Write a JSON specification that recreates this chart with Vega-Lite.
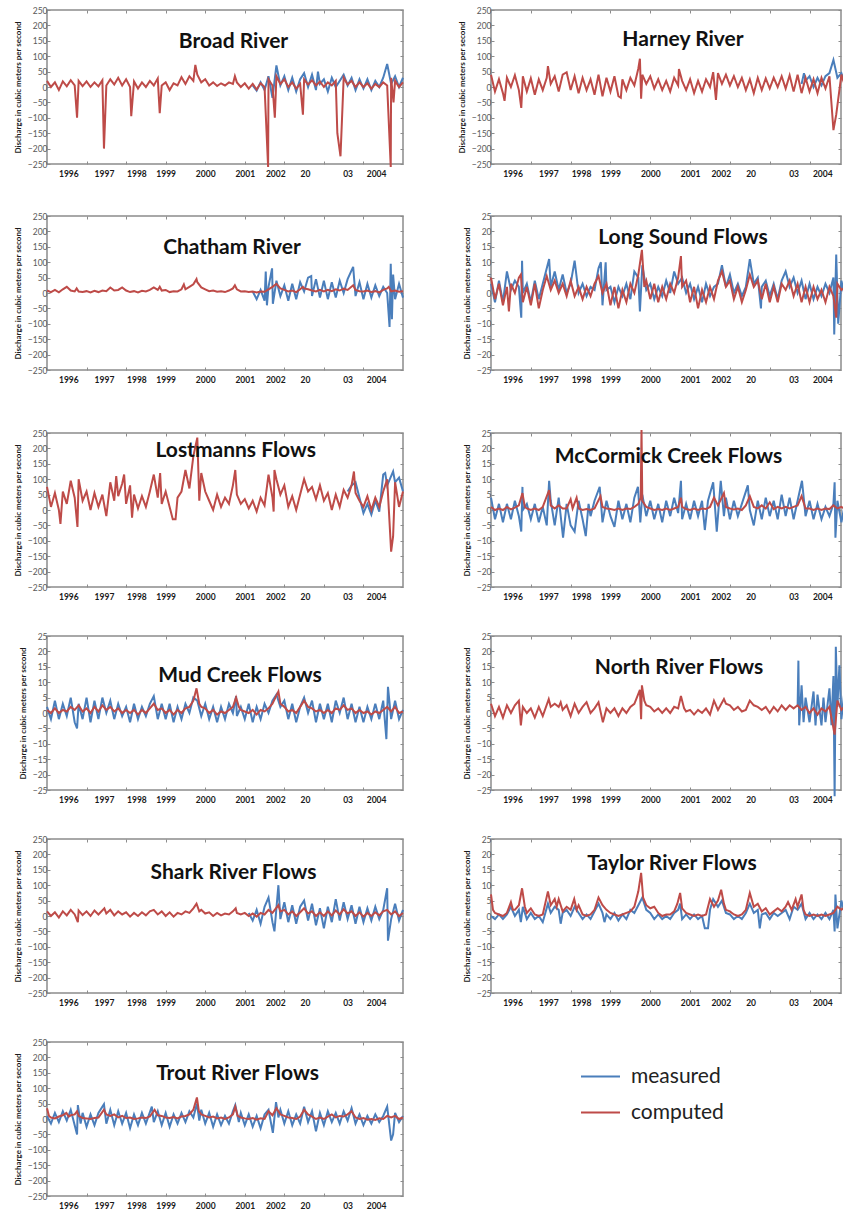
{
"$schema": "https://vega.github.io/schema/vega-lite/v6.json",
"autosize": {"type": "pad"},
"padding": {"left": 13, "top": 5, "right": 0, "bottom": 0},
"background": "white",
"config": {
 "font": "Lato",
 "view": {"stroke": "#8C8C8C", "strokeWidth": 1.5},
 "axis": {"domain": false, "grid": false, "tickColor": "#8C8C8C", "tickSize": -3, "tickWidth": 1, "labelFont": "Lato", "labelFontSize": 8.5},
 "axisBottom": {"labelFontWeight": "bold", "labelColor": "#1A1A1A", "labelPadding": 8, "labelOverlap": false, "labelFlush": false, "labelBound": false},
 "axisLeft": {"labelColor": "#595959", "labelPadding": 3, "titleFont": "Lato", "titleFontSize": 8, "titleFontWeight": "bold", "titleColor": "#1A1A1A", "titlePadding": 5},
 "axisTop": {"labels": false},
 "axisRight": {"labels": false},
 "title": {"font": "Lato", "fontSize": 21, "fontWeight": "bold", "color": "#111111", "anchor": "middle", "frame": "group", "baseline": "alphabetic"},
 "line": {"strokeWidth": 2, "clip": true, "invalid": "filter"}
},
"spacing": 423,
"bounds": "flush",
"vconcat": [
{"spacing": 206, "bounds": "flush", "vconcat": [
{"spacing": 88, "bounds": "flush", "hconcat": [
{"width": 356, "height": 154, "title": {"text": "Broad River", "dx": 8.5, "offset": -46},
 "data": {"values": [
{"t":1996,"c":20},{"t":1996.1,"c":0},{"t":1996.2,"c":15},{"t":1996.3,"c":-10},{"t":1996.4,"c":18},{"t":1996.5,"c":2},{"t":1996.6,"c":22},{"t":1996.7,"c":5},{"t":1996.76,"c":-100},{"t":1996.8,"c":20},{"t":1996.9,"c":3},
{"t":1997,"c":18},{"t":1997.1,"c":0},{"t":1997.2,"c":15},{"t":1997.3,"c":2},{"t":1997.4,"c":22},{"t":1997.44,"c":-200},{"t":1997.5,"c":5},{"t":1997.6,"c":25},{"t":1997.7,"c":8},{"t":1997.8,"c":30},{"t":1997.9,"c":5},
{"t":1998,"c":25},{"t":1998.1,"c":0},{"t":1998.13,"c":-95},{"t":1998.2,"c":18},{"t":1998.3,"c":-5},{"t":1998.4,"c":15},{"t":1998.5,"c":0},{"t":1998.6,"c":20},{"t":1998.7,"c":5},{"t":1998.8,"c":28},{"t":1998.85,"c":-85},{"t":1998.9,"c":5},
{"t":1999,"c":15},{"t":1999.1,"c":-10},{"t":1999.2,"c":12},{"t":1999.3,"c":5},{"t":1999.4,"c":32},{"t":1999.5,"c":10},{"t":1999.6,"c":35},{"t":1999.7,"c":20},{"t":1999.75,"c":72},{"t":1999.8,"c":40},{"t":1999.9,"c":15},
{"t":2000,"c":25},{"t":2000.1,"c":5},{"t":2000.2,"c":15},{"t":2000.3,"c":3},{"t":2000.4,"c":12},{"t":2000.5,"c":5},{"t":2000.6,"c":15},{"t":2000.7,"c":10},{"t":2000.75,"c":35},{"t":2000.8,"c":15},{"t":2000.9,"c":0},
{"t":2001,"c":12},{"t":2001.1,"c":-5},{"t":2001.2,"c":10,"m":5},{"t":2001.3,"c":-8,"m":-12},{"t":2001.4,"c":12,"m":15},{"t":2001.5,"c":0,"m":-10},{"t":2001.59,"c":-260},{"t":2001.6,"c":25,"m":35},{"t":2001.7,"c":5,"m":-35},{"t":2001.76,"c":-100},{"t":2001.8,"c":35,"m":70},{"t":2001.9,"c":10,"m":5},
{"t":2002,"c":25,"m":35},{"t":2002.1,"c":0,"m":-10},{"t":2002.2,"c":15,"m":30},{"t":2002.3,"c":-5,"m":-15},{"t":2002.4,"c":10,"m":25},{"t":2002.47,"c":-90},{"t":2002.5,"c":25,"m":45},{"t":2002.6,"c":8,"m":0},{"t":2002.7,"c":22,"m":40},{"t":2002.8,"c":5,"m":-10},{"t":2002.85,"m":50},{"t":2002.9,"c":18,"m":10},
{"t":2003,"c":0,"m":25},{"t":2003.1,"c":15,"m":-15},{"t":2003.2,"c":5,"m":30},{"t":2003.3,"c":20,"m":0},{"t":2003.34,"c":-150},{"t":2003.42,"c":-225},{"t":2003.5,"c":30,"m":40},{"t":2003.6,"c":8,"m":5},{"t":2003.7,"c":20,"m":30},{"t":2003.8,"c":0,"m":-10},{"t":2003.9,"c":15,"m":25},
{"t":2004,"c":0,"m":-5},{"t":2004.1,"c":12,"m":25},{"t":2004.2,"c":-5,"m":-10},{"t":2004.3,"c":10,"m":20},{"t":2004.4,"c":0,"m":0},{"t":2004.5,"c":15,"m":30},{"t":2004.6,"c":5,"m":75},{"t":2004.69,"c":-260},{"t":2004.7,"c":30,"m":10},{"t":2004.76,"c":-50},{"t":2004.8,"c":20,"m":35},{"t":2004.9,"c":0,"m":0},{"t":2005,"c":15,"m":30}
 ]},
 "layer": [
  {"mark": "line", "encoding": {
   "x": {"field": "t", "type": "quantitative", "scale": {"domain": [1996, 2005], "nice": false, "zero": false}, "axis": {"title": null, "values": [1996.54,1997,1997.44,1998,1998.26,1999,2000,2001,2001.77,2002,2002.52,2003,2003.6,2004,2004.32], "labelExpr": "datum.value==1996.54?'1996':datum.value==1997.44?'1997':datum.value==1998.26?'1998':datum.value==1999?'1999':datum.value==2000?'2000':datum.value==2001?'2001':datum.value==2001.77?'2002':datum.value==2002.52?'20':datum.value==2003.6?'03':datum.value==2004.32?'2004':''", "tickOpacity": {"condition": {"test": "datum.value==floor(datum.value)", "value": 1}, "value": 0}}},
   "y": {"field": "m", "type": "quantitative", "scale": {"domain": [-250, 250], "nice": false}, "axis": {"values": [-250,-200,-150,-100,-50,0,50,100,150,200,250], "title": "Discharge in cubic meters per second"}},
   "color": {"datum": "measured", "type": "nominal", "scale": {"domain": ["measured", "computed"], "range": ["#4A7EBB", "#BE4B48"]}, "legend": {"orient": "none", "legendX": 533, "legendY": 1046, "title": null, "symbolType": "stroke", "symbolSize": 1521, "symbolStrokeWidth": 3, "labelFontSize": 21, "labelFont": "Lato", "labelColor": "#222222", "rowPadding": 5, "labelOffset": 10}}}},
  {"mark": "line", "encoding": {
   "x": {"field": "t", "type": "quantitative", "axis": {"orient": "top", "title": null, "values": [1997,1998,1999,2000,2001,2002,2003,2004]}},
   "y": {"field": "c", "type": "quantitative", "axis": {"orient": "right", "title": null, "values": [-250,-200,-150,-100,-50,0,50,100,150,200,250]}},
   "color": {"datum": "computed", "type": "nominal"}}}
 ],
 "resolve": {"axis": {"x": "independent", "y": "independent"}}},
{"width": 350, "height": 154, "title": {"text": "Harney River", "dx": 17, "offset": -44},
 "data": {"values": [
{"t":1996,"c":40},{"t":1996.1,"c":-15},{"t":1996.2,"c":25},{"t":1996.3,"c":-20},{"t":1996.34,"c":-45},{"t":1996.4,"c":30},{"t":1996.5,"c":0},{"t":1996.6,"c":38},{"t":1996.7,"c":-10},{"t":1996.76,"c":-68},{"t":1996.8,"c":35},{"t":1996.9,"c":-15},
{"t":1997,"c":28},{"t":1997.1,"c":-25},{"t":1997.2,"c":25},{"t":1997.3,"c":-10},{"t":1997.4,"c":30},{"t":1997.43,"c":68},{"t":1997.5,"c":10},{"t":1997.6,"c":35},{"t":1997.7,"c":-15},{"t":1997.8,"c":40},{"t":1997.9,"c":48},
{"t":1998,"c":-10},{"t":1998.1,"c":35},{"t":1998.2,"c":-20},{"t":1998.3,"c":30},{"t":1998.4,"c":-10},{"t":1998.5,"c":25},{"t":1998.6,"c":-25},{"t":1998.7,"c":40},{"t":1998.8,"c":-30},{"t":1998.9,"c":30},
{"t":1999,"c":-15},{"t":1999.1,"c":35},{"t":1999.2,"c":-30},{"t":1999.26,"c":-35},{"t":1999.3,"c":25},{"t":1999.4,"c":-10},{"t":1999.5,"c":30},{"t":1999.6,"c":5},{"t":1999.7,"c":60},{"t":1999.74,"c":92},{"t":1999.77,"c":-38},{"t":1999.8,"c":40},{"t":1999.9,"c":10},
{"t":2000,"c":35},{"t":2000.1,"c":-5},{"t":2000.2,"c":25},{"t":2000.3,"c":-10},{"t":2000.4,"c":20},{"t":2000.5,"c":-15},{"t":2000.6,"c":30},{"t":2000.7,"c":5},{"t":2000.72,"c":58},{"t":2000.8,"c":20},{"t":2000.9,"c":-10},
{"t":2001,"c":25},{"t":2001.1,"c":-20},{"t":2001.2,"c":20},{"t":2001.3,"c":-15},{"t":2001.4,"c":25},{"t":2001.5,"c":0},{"t":2001.58,"c":48},{"t":2001.65,"c":-42},{"t":2001.7,"c":45},{"t":2001.8,"c":10},{"t":2001.9,"c":40},
{"t":2002,"c":5},{"t":2002.1,"c":35},{"t":2002.2,"c":0},{"t":2002.3,"c":30},{"t":2002.4,"c":-10},{"t":2002.5,"c":25},{"t":2002.6,"c":-20},{"t":2002.7,"c":30},{"t":2002.8,"c":-10},{"t":2002.9,"c":28},
{"t":2003,"c":-5},{"t":2003.1,"c":30},{"t":2003.2,"c":0},{"t":2003.3,"c":35},{"t":2003.4,"c":-5},{"t":2003.5,"c":38},{"t":2003.6,"c":-15},{"t":2003.7,"c":40},{"t":2003.8,"c":-20,"m":10},{"t":2003.86,"m":45},{"t":2003.9,"c":30,"m":20},
{"t":2004,"c":-15,"m":35},{"t":2004.1,"c":25,"m":0},{"t":2004.2,"c":-20,"m":30},{"t":2004.3,"c":30,"m":5},{"t":2004.4,"c":-5,"m":35},{"t":2004.5,"c":35,"m":45},{"t":2004.6,"c":-140,"m":88},{"t":2004.67,"c":-90},{"t":2004.7,"m":30},{"t":2004.8,"c":40,"m":45},{"t":2004.9,"c":0,"m":5},{"t":2005,"c":25,"m":30}
 ]},
 "layer": [
  {"mark": "line", "encoding": {
   "x": {"field": "t", "type": "quantitative", "scale": {"domain": [1996, 2004.79], "nice": false, "zero": false}, "axis": {"title": null, "values": [1996.54,1997,1997.44,1998,1998.26,1999,2000,2001,2001.77,2002,2002.52,2003,2003.6,2004,2004.32], "labelExpr": "datum.value==1996.54?'1996':datum.value==1997.44?'1997':datum.value==1998.26?'1998':datum.value==1999?'1999':datum.value==2000?'2000':datum.value==2001?'2001':datum.value==2001.77?'2002':datum.value==2002.52?'20':datum.value==2003.6?'03':datum.value==2004.32?'2004':''", "tickOpacity": {"condition": {"test": "datum.value==floor(datum.value)", "value": 1}, "value": 0}}},
   "y": {"field": "m", "type": "quantitative", "scale": {"domain": [-250, 250], "nice": false}, "axis": {"values": [-250,-200,-150,-100,-50,0,50,100,150,200,250], "title": "Discharge in cubic meters per second"}},
   "color": {"datum": "measured", "type": "nominal"}}},
  {"mark": "line", "encoding": {
   "x": {"field": "t", "type": "quantitative", "axis": {"orient": "top", "title": null, "values": [1997,1998,1999,2000,2001,2002,2003,2004]}},
   "y": {"field": "c", "type": "quantitative", "axis": {"orient": "right", "title": null, "values": [-250,-200,-150,-100,-50,0,50,100,150,200,250]}},
   "color": {"datum": "computed", "type": "nominal"}}}
 ],
 "resolve": {"axis": {"x": "independent", "y": "independent"}}}
]},
{"spacing": 88, "bounds": "flush", "hconcat": [
{"width": 356, "height": 154, "title": {"text": "Chatham River", "dx": 7, "offset": -45.5},
 "data": {"values": [
{"t":1996,"c":8},{"t":1996.1,"c":3},{"t":1996.2,"c":10},{"t":1996.3,"c":2},{"t":1996.4,"c":12},{"t":1996.5,"c":20},{"t":1996.6,"c":8},{"t":1996.7,"c":5},{"t":1996.75,"c":15},{"t":1996.8,"c":5},{"t":1996.9,"c":3},
{"t":1997,"c":6},{"t":1997.1,"c":2},{"t":1997.2,"c":7},{"t":1997.3,"c":3},{"t":1997.4,"c":8},{"t":1997.5,"c":6},{"t":1997.6,"c":18},{"t":1997.7,"c":8},{"t":1997.8,"c":10},{"t":1997.9,"c":18},
{"t":1998,"c":8},{"t":1998.1,"c":3},{"t":1998.2,"c":6},{"t":1998.3,"c":2},{"t":1998.4,"c":7},{"t":1998.5,"c":5},{"t":1998.6,"c":10},{"t":1998.7,"c":18},{"t":1998.8,"c":10},{"t":1998.85,"c":20},{"t":1998.9,"c":8},
{"t":1999,"c":10},{"t":1999.1,"c":3},{"t":1999.2,"c":6},{"t":1999.3,"c":5},{"t":1999.4,"c":12},{"t":1999.46,"c":28},{"t":1999.5,"c":12},{"t":1999.6,"c":20},{"t":1999.7,"c":28},{"t":1999.78,"c":45},{"t":1999.8,"c":35},{"t":1999.9,"c":18},
{"t":2000,"c":12},{"t":2000.1,"c":6},{"t":2000.2,"c":8},{"t":2000.3,"c":4},{"t":2000.4,"c":6},{"t":2000.5,"c":3},{"t":2000.6,"c":8},{"t":2000.7,"c":15},{"t":2000.75,"c":25},{"t":2000.8,"c":12},{"t":2000.9,"c":5},
{"t":2001,"c":6},{"t":2001.1,"c":3},{"t":2001.2,"c":5,"m":5},{"t":2001.3,"c":2,"m":-20},{"t":2001.4,"c":5,"m":10},{"t":2001.5,"c":4,"m":-25},{"t":2001.53,"m":70},{"t":2001.56,"m":-40},{"t":2001.6,"c":12,"m":20},{"t":2001.69,"m":80},{"t":2001.7,"c":20},{"t":2001.71,"m":-35},{"t":2001.8,"c":30,"m":40},{"t":2001.9,"c":15,"m":-10},
{"t":2002,"c":10,"m":25},{"t":2002.1,"c":5,"m":-25},{"t":2002.2,"c":8,"m":30},{"t":2002.3,"c":3,"m":-20},{"t":2002.4,"c":12,"m":35},{"t":2002.47,"c":20},{"t":2002.5,"c":15,"m":5},{"t":2002.6,"c":12,"m":50},{"t":2002.68,"m":55},{"t":2002.7,"c":8,"m":-10},{"t":2002.8,"c":5,"m":45},{"t":2002.9,"c":10,"m":-15},
{"t":2003,"c":5,"m":40},{"t":2003.1,"c":10,"m":-20},{"t":2003.2,"c":6,"m":35},{"t":2003.3,"c":12,"m":-15},{"t":2003.4,"c":8,"m":40},{"t":2003.5,"c":14,"m":0},{"t":2003.6,"c":10,"m":45},{"t":2003.74,"c":25,"m":85},{"t":2003.8,"c":10,"m":-10},{"t":2003.9,"c":6,"m":35},
{"t":2004,"c":5,"m":-20},{"t":2004.1,"c":8,"m":30},{"t":2004.2,"c":3,"m":-15},{"t":2004.3,"c":6,"m":25},{"t":2004.4,"c":2,"m":-10},{"t":2004.5,"c":10,"m":20},{"t":2004.6,"c":15,"m":0},{"t":2004.64,"c":20},{"t":2004.66,"m":-110},{"t":2004.69,"m":95},{"t":2004.7,"c":5},{"t":2004.72,"m":-85},{"t":2004.75,"m":60},{"t":2004.8,"c":8,"m":-20},{"t":2004.9,"c":4,"m":30},{"t":2005,"c":6,"m":-15}
 ]},
 "layer": [
  {"mark": "line", "encoding": {
   "x": {"field": "t", "type": "quantitative", "scale": {"domain": [1996, 2005], "nice": false, "zero": false}, "axis": {"title": null, "values": [1996.54,1997,1997.44,1998,1998.26,1999,2000,2001,2001.77,2002,2002.52,2003,2003.6,2004,2004.32], "labelExpr": "datum.value==1996.54?'1996':datum.value==1997.44?'1997':datum.value==1998.26?'1998':datum.value==1999?'1999':datum.value==2000?'2000':datum.value==2001?'2001':datum.value==2001.77?'2002':datum.value==2002.52?'20':datum.value==2003.6?'03':datum.value==2004.32?'2004':''", "tickOpacity": {"condition": {"test": "datum.value==floor(datum.value)", "value": 1}, "value": 0}}},
   "y": {"field": "m", "type": "quantitative", "scale": {"domain": [-250, 250], "nice": false}, "axis": {"values": [-250,-200,-150,-100,-50,0,50,100,150,200,250], "title": "Discharge in cubic meters per second"}},
   "color": {"datum": "measured", "type": "nominal"}}},
  {"mark": "line", "encoding": {
   "x": {"field": "t", "type": "quantitative", "axis": {"orient": "top", "title": null, "values": [1997,1998,1999,2000,2001,2002,2003,2004]}},
   "y": {"field": "c", "type": "quantitative", "axis": {"orient": "right", "title": null, "values": [-250,-200,-150,-100,-50,0,50,100,150,200,250]}},
   "color": {"datum": "computed", "type": "nominal"}}}
 ],
 "resolve": {"axis": {"x": "independent", "y": "independent"}}},
{"width": 350, "height": 154, "title": {"text": "Long Sound Flows", "dx": 17, "offset": -35.5},
 "data": {"values": [
{"t":1996,"c":5,"m":3},{"t":1996.1,"c":-2,"m":-3},{"t":1996.2,"c":3,"m":4},{"t":1996.3,"c":-4,"m":-3},{"t":1996.4,"c":2,"m":7},{"t":1996.45,"c":-6},{"t":1996.5,"c":3,"m":1},{"t":1996.6,"c":0,"m":4},{"t":1996.7,"c":5,"m":2},{"t":1996.75,"c":6},{"t":1996.76,"m":-8},{"t":1996.78,"m":10.5},{"t":1996.8,"c":-3,"m":0},{"t":1996.9,"c":2,"m":3},
{"t":1997,"c":-4,"m":-3},{"t":1997.1,"c":3,"m":4},{"t":1997.2,"c":-5,"m":-2},{"t":1997.3,"c":1,"m":3},{"t":1997.4,"c":5.5},{"t":1997.46,"m":11},{"t":1997.5,"c":1,"m":2},{"t":1997.6,"c":4,"m":7},{"t":1997.7,"c":0,"m":1},{"t":1997.8,"c":3,"m":6},{"t":1997.9,"c":-1,"m":0},
{"t":1998,"c":4,"m":3},{"t":1998.1,"c":-1,"m":10.5},{"t":1998.2,"c":2,"m":0},{"t":1998.3,"c":-2,"m":3},{"t":1998.4,"c":2,"m":-1},{"t":1998.5,"c":-1,"m":2},{"t":1998.6,"c":3,"m":1},{"t":1998.7,"c":5.5,"m":8},{"t":1998.76,"m":10},{"t":1998.8,"c":0,"m":-4},{"t":1998.88,"m":10},{"t":1998.9,"c":3,"m":1},
{"t":1999,"c":-4,"m":2},{"t":1999.1,"c":2,"m":-3},{"t":1999.2,"c":-5,"m":2},{"t":1999.3,"c":1,"m":-1},{"t":1999.4,"c":-3,"m":3},{"t":1999.5,"c":3,"m":-2},{"t":1999.6,"c":0,"m":7},{"t":1999.7,"c":6,"m":5},{"t":1999.74,"m":-6},{"t":1999.79,"c":14},{"t":1999.8,"m":9},{"t":1999.85,"c":2},{"t":1999.9,"c":4,"m":1},
{"t":2000,"c":-2,"m":3},{"t":2000.1,"c":3,"m":-2},{"t":2000.2,"c":-3,"m":2},{"t":2000.3,"c":2,"m":-1},{"t":2000.4,"c":-2,"m":4},{"t":2000.5,"c":3,"m":0},{"t":2000.6,"c":0,"m":7},{"t":2000.7,"c":5,"m":3},{"t":2000.77,"c":12},{"t":2000.8,"c":2,"m":5},{"t":2000.9,"c":4,"m":0},
{"t":2001,"c":-3,"m":3},{"t":2001.1,"c":2,"m":-2},{"t":2001.2,"c":-5,"m":2},{"t":2001.3,"c":1,"m":-3},{"t":2001.4,"c":-3,"m":3},{"t":2001.5,"c":2,"m":-1},{"t":2001.6,"c":-2,"m":2},{"t":2001.7,"c":4,"m":3},{"t":2001.8,"c":7,"m":9},{"t":2001.9,"c":2,"m":2},
{"t":2002,"c":4,"m":6},{"t":2002.1,"c":-2,"m":0},{"t":2002.2,"c":2,"m":3},{"t":2002.3,"c":-3,"m":-1},{"t":2002.4,"c":1,"m":2},{"t":2002.5,"c":6,"m":11},{"t":2002.6,"c":2,"m":3},{"t":2002.7,"c":4,"m":5},{"t":2002.78,"m":-5},{"t":2002.8,"c":-2,"m":2},{"t":2002.9,"c":3,"m":4},
{"t":2003,"c":-3,"m":-1},{"t":2003.1,"c":2,"m":3},{"t":2003.2,"c":-3,"m":-2},{"t":2003.3,"c":3,"m":4},{"t":2003.4,"c":1,"m":7},{"t":2003.5,"c":4,"m":2},{"t":2003.6,"c":-1,"m":5},{"t":2003.7,"c":3,"m":0},{"t":2003.8,"c":-3,"m":4},{"t":2003.9,"c":2,"m":-2},
{"t":2004,"c":-3,"m":3},{"t":2004.1,"c":2,"m":-2},{"t":2004.2,"c":-2,"m":2},{"t":2004.3,"c":1,"m":-1},{"t":2004.4,"c":-3,"m":3},{"t":2004.5,"c":2,"m":0},{"t":2004.6,"c":-1,"m":5},{"t":2004.62,"m":-13.5},{"t":2004.67,"c":-8,"m":12.5},{"t":2004.7,"c":3},{"t":2004.72,"m":-10},{"t":2004.8,"c":1,"m":4},{"t":2004.9,"c":2,"m":-2},{"t":2005,"c":0,"m":3}
 ]},
 "layer": [
  {"mark": "line", "encoding": {
   "x": {"field": "t", "type": "quantitative", "scale": {"domain": [1996, 2004.79], "nice": false, "zero": false}, "axis": {"title": null, "values": [1996.54,1997,1997.44,1998,1998.26,1999,2000,2001,2001.77,2002,2002.52,2003,2003.6,2004,2004.32], "labelExpr": "datum.value==1996.54?'1996':datum.value==1997.44?'1997':datum.value==1998.26?'1998':datum.value==1999?'1999':datum.value==2000?'2000':datum.value==2001?'2001':datum.value==2001.77?'2002':datum.value==2002.52?'20':datum.value==2003.6?'03':datum.value==2004.32?'2004':''", "tickOpacity": {"condition": {"test": "datum.value==floor(datum.value)", "value": 1}, "value": 0}}},
   "y": {"field": "m", "type": "quantitative", "scale": {"domain": [-25, 25], "nice": false}, "axis": {"values": [-25,-20,-15,-10,-5,0,5,10,15,20,25], "title": "Discharge in cubic meters per second"}},
   "color": {"datum": "measured", "type": "nominal"}}},
  {"mark": "line", "encoding": {
   "x": {"field": "t", "type": "quantitative", "axis": {"orient": "top", "title": null, "values": [1997,1998,1999,2000,2001,2002,2003,2004]}},
   "y": {"field": "c", "type": "quantitative", "axis": {"orient": "right", "title": null, "values": [-25,-20,-15,-10,-5,0,5,10,15,20,25]}},
   "color": {"datum": "computed", "type": "nominal"}}}
 ],
 "resolve": {"axis": {"x": "independent", "y": "independent"}}}
]}
]},
{"spacing": 203, "bounds": "flush", "vconcat": [
{"spacing": 88, "bounds": "flush", "hconcat": [
{"width": 356, "height": 154, "title": {"text": "Lostmanns Flows", "dx": 10.7, "offset": -32},
 "data": {"values": [
{"t":1996,"c":75},{"t":1996.1,"c":10},{"t":1996.2,"c":55},{"t":1996.3,"c":0},{"t":1996.34,"c":-45},{"t":1996.4,"c":60},{"t":1996.5,"c":20},{"t":1996.6,"c":95},{"t":1996.7,"c":40},{"t":1996.77,"c":-55},{"t":1996.8,"c":100},{"t":1996.9,"c":30},
{"t":1997,"c":60},{"t":1997.1,"c":0},{"t":1997.2,"c":55},{"t":1997.3,"c":10},{"t":1997.4,"c":50},{"t":1997.5,"c":-20},{"t":1997.6,"c":90},{"t":1997.7,"c":30},{"t":1997.75,"c":110},{"t":1997.8,"c":45},{"t":1997.9,"c":85},{"t":1997.95,"c":115},
{"t":1998,"c":20},{"t":1998.1,"c":80},{"t":1998.15,"c":-25},{"t":1998.2,"c":50},{"t":1998.3,"c":5},{"t":1998.4,"c":45},{"t":1998.5,"c":10},{"t":1998.6,"c":60},{"t":1998.7,"c":115},{"t":1998.8,"c":40},{"t":1998.86,"c":120},{"t":1998.9,"c":20},
{"t":1999,"c":60},{"t":1999.1,"c":10},{"t":1999.18,"c":-30},{"t":1999.25,"c":-30},{"t":1999.3,"c":40},{"t":1999.4,"c":60},{"t":1999.5,"c":130},{"t":1999.6,"c":70},{"t":1999.7,"c":175},{"t":1999.8,"c":235},{"t":1999.85,"c":30},{"t":1999.9,"c":120},
{"t":2000,"c":60},{"t":2000.1,"c":30},{"t":2000.2,"c":0},{"t":2000.3,"c":50},{"t":2000.4,"c":10},{"t":2000.5,"c":40},{"t":2000.6,"c":20},{"t":2000.7,"c":80},{"t":2000.76,"c":130},{"t":2000.8,"c":50},{"t":2000.9,"c":20},
{"t":2001,"c":35},{"t":2001.1,"c":5},{"t":2001.2,"c":30},{"t":2001.3,"c":-5},{"t":2001.4,"c":40},{"t":2001.5,"c":15},{"t":2001.6,"c":115},{"t":2001.7,"c":40},{"t":2001.73,"c":-5},{"t":2001.75,"c":130},{"t":2001.8,"c":100},{"t":2001.9,"c":50},
{"t":2002,"c":80},{"t":2002.1,"c":10},{"t":2002.2,"c":45},{"t":2002.3,"c":0},{"t":2002.4,"c":50},{"t":2002.5,"c":100},{"t":2002.6,"c":60},{"t":2002.7,"c":75},{"t":2002.8,"c":35},{"t":2002.9,"c":80},
{"t":2003,"c":30},{"t":2003.1,"c":55},{"t":2003.2,"c":0},{"t":2003.3,"c":50},{"t":2003.4,"c":10},{"t":2003.5,"c":65},{"t":2003.6,"c":40,"m":60},{"t":2003.7,"c":80,"m":80},{"t":2003.76,"c":125},{"t":2003.8,"c":55,"m":90},{"t":2003.9,"c":30,"m":40},
{"t":2004,"c":10,"m":-10},{"t":2004.1,"c":45,"m":20},{"t":2004.2,"c":0,"m":-15},{"t":2004.3,"c":40,"m":30},{"t":2004.4,"c":10,"m":-5},{"t":2004.5,"c":60,"m":115},{"t":2004.55,"m":120},{"t":2004.6,"c":100,"m":80},{"t":2004.7,"c":-135,"m":110},{"t":2004.75,"c":-85,"m":125},{"t":2004.8,"c":90,"m":90},{"t":2004.9,"c":10,"m":105},{"t":2005,"c":60,"m":60}
 ]},
 "layer": [
  {"mark": "line", "encoding": {
   "x": {"field": "t", "type": "quantitative", "scale": {"domain": [1996, 2005], "nice": false, "zero": false}, "axis": {"title": null, "values": [1996.54,1997,1997.44,1998,1998.26,1999,2000,2001,2001.77,2002,2002.52,2003,2003.6,2004,2004.32], "labelExpr": "datum.value==1996.54?'1996':datum.value==1997.44?'1997':datum.value==1998.26?'1998':datum.value==1999?'1999':datum.value==2000?'2000':datum.value==2001?'2001':datum.value==2001.77?'2002':datum.value==2002.52?'20':datum.value==2003.6?'03':datum.value==2004.32?'2004':''", "tickOpacity": {"condition": {"test": "datum.value==floor(datum.value)", "value": 1}, "value": 0}}},
   "y": {"field": "m", "type": "quantitative", "scale": {"domain": [-250, 250], "nice": false}, "axis": {"values": [-250,-200,-150,-100,-50,0,50,100,150,200,250], "title": "Discharge in cubic meters per second"}},
   "color": {"datum": "measured", "type": "nominal"}}},
  {"mark": "line", "encoding": {
   "x": {"field": "t", "type": "quantitative", "axis": {"orient": "top", "title": null, "values": [1997,1998,1999,2000,2001,2002,2003,2004]}},
   "y": {"field": "c", "type": "quantitative", "axis": {"orient": "right", "title": null, "values": [-250,-200,-150,-100,-50,0,50,100,150,200,250]}},
   "color": {"datum": "computed", "type": "nominal"}}}
 ],
 "resolve": {"axis": {"x": "independent", "y": "independent"}}},
{"width": 350, "height": 154, "title": {"text": "McCormick Creek Flows", "dx": 2.5, "offset": -41},
 "data": {"values": [
{"t":1996,"m":4,"c":1},{"t":1996.1,"m":-3,"c":0},{"t":1996.2,"m":2,"c":0.5},{"t":1996.3,"m":-4,"c":0},{"t":1996.4,"m":2,"c":1},{"t":1996.5,"m":-3,"c":0.2},{"t":1996.6,"m":3,"c":0.8},{"t":1996.7,"m":-2,"c":1.5},{"t":1996.76,"m":-7},{"t":1996.79,"m":7.5,"c":5.5},{"t":1996.8,"m":0},{"t":1996.85,"c":1},{"t":1996.9,"m":2,"c":0.5},
{"t":1997,"m":-3,"c":0},{"t":1997.1,"m":2,"c":0.5},{"t":1997.2,"m":-4,"c":0},{"t":1997.3,"m":1,"c":1},{"t":1997.4,"m":-5},{"t":1997.46,"m":9.5,"c":6.5},{"t":1997.5,"m":3,"c":1.5},{"t":1997.6,"m":-5,"c":0.5},{"t":1997.7,"m":4,"c":1.5},{"t":1997.8,"c":0.5},{"t":1997.81,"m":-9},{"t":1997.9,"m":2,"c":0.5},
{"t":1998,"m":-5,"c":3.5},{"t":1998.05,"c":0.5},{"t":1998.1,"m":-7},{"t":1998.15,"c":4},{"t":1998.2,"m":3,"c":0.5},{"t":1998.3,"m":-3,"c":0},{"t":1998.38,"m":-8.5},{"t":1998.4,"c":0.3},{"t":1998.45,"m":2},{"t":1998.5,"m":-2,"c":0},{"t":1998.6,"m":3,"c":0.5},{"t":1998.73,"m":7.5},{"t":1998.75,"c":4.5},{"t":1998.8,"m":-4,"c":1},{"t":1998.9,"m":3,"c":0.5},
{"t":1999,"m":-2,"c":0.3},{"t":1999.1,"m":-5.5,"c":0},{"t":1999.2,"m":3,"c":0.5},{"t":1999.3,"m":-3,"c":0},{"t":1999.4,"m":2,"c":0.5},{"t":1999.5,"m":-4,"c":0.3},{"t":1999.6,"m":4,"c":1},{"t":1999.69,"m":7.5},{"t":1999.7,"c":2},{"t":1999.75,"m":-4},{"t":1999.76,"c":4},{"t":1999.78,"c":26},{"t":1999.8,"m":5,"c":3},{"t":1999.9,"m":-2,"c":1},
{"t":2000,"m":3,"c":0.5},{"t":2000.1,"m":-3,"c":0},{"t":2000.2,"m":2,"c":0.3},{"t":2000.3,"m":-4,"c":0},{"t":2000.4,"m":3,"c":0.5},{"t":2000.5,"m":-2,"c":0},{"t":2000.6,"m":4,"c":0.5},{"t":2000.7,"m":-1,"c":1},{"t":2000.77,"m":9.5,"c":4},{"t":2000.8,"m":-3,"c":1},{"t":2000.9,"m":2,"c":0.3},
{"t":2001,"m":-3,"c":0},{"t":2001.1,"m":3,"c":0.5},{"t":2001.2,"m":-2,"c":0},{"t":2001.3,"m":3,"c":0.5},{"t":2001.37,"m":-6.5},{"t":2001.4,"c":0.3},{"t":2001.45,"m":3},{"t":2001.5,"c":1},{"t":2001.58,"m":9},{"t":2001.6,"c":4},{"t":2001.67,"m":-7},{"t":2001.7,"c":1.5},{"t":2001.77,"m":9.5},{"t":2001.85,"m":-2,"c":5.5},{"t":2001.9,"m":4,"c":1},
{"t":2002,"m":-3,"c":0.5},{"t":2002.1,"m":3,"c":0.2},{"t":2002.2,"m":-2,"c":0.5},{"t":2002.3,"m":2,"c":0},{"t":2002.4,"c":1.5},{"t":2002.45,"m":8},{"t":2002.5,"m":0,"c":4.5},{"t":2002.6,"m":-5,"c":1},{"t":2002.7,"m":3,"c":0.5},{"t":2002.8,"m":-3,"c":1.5},{"t":2002.9,"m":4,"c":0.5},
{"t":2003,"m":-2,"c":2.5},{"t":2003.1,"m":3,"c":0.3},{"t":2003.2,"m":-3,"c":1},{"t":2003.3,"m":5,"c":0.5},{"t":2003.4,"m":-2,"c":1},{"t":2003.5,"m":4,"c":0.5},{"t":2003.6,"m":-3,"c":1},{"t":2003.7,"m":3,"c":1.5},{"t":2003.8,"c":4.5},{"t":2003.81,"m":9.5},{"t":2003.9,"m":-2,"c":0.5},
{"t":2004,"m":3,"c":0.5},{"t":2004.1,"m":-3,"c":0},{"t":2004.2,"m":2,"c":0.5},{"t":2004.3,"m":-3,"c":0},{"t":2004.4,"m":1,"c":0.5},{"t":2004.5,"m":-2,"c":0.3},{"t":2004.6,"m":2,"c":1.5},{"t":2004.63,"m":9},{"t":2004.65,"m":-9},{"t":2004.7,"m":3,"c":0.5},{"t":2004.8,"m":-4,"c":1},{"t":2004.9,"m":3,"c":0.3},{"t":2005,"m":-2,"c":0.5}
 ]},
 "layer": [
  {"mark": "line", "encoding": {
   "x": {"field": "t", "type": "quantitative", "scale": {"domain": [1996, 2004.79], "nice": false, "zero": false}, "axis": {"title": null, "values": [1996.54,1997,1997.44,1998,1998.26,1999,2000,2001,2001.77,2002,2002.52,2003,2003.6,2004,2004.32], "labelExpr": "datum.value==1996.54?'1996':datum.value==1997.44?'1997':datum.value==1998.26?'1998':datum.value==1999?'1999':datum.value==2000?'2000':datum.value==2001?'2001':datum.value==2001.77?'2002':datum.value==2002.52?'20':datum.value==2003.6?'03':datum.value==2004.32?'2004':''", "tickOpacity": {"condition": {"test": "datum.value==floor(datum.value)", "value": 1}, "value": 0}}},
   "y": {"field": "m", "type": "quantitative", "scale": {"domain": [-25, 25], "nice": false}, "axis": {"values": [-25,-20,-15,-10,-5,0,5,10,15,20,25], "title": "Discharge in cubic meters per second"}},
   "color": {"datum": "measured", "type": "nominal"}}},
  {"mark": "line", "encoding": {
   "x": {"field": "t", "type": "quantitative", "axis": {"orient": "top", "title": null, "values": [1997,1998,1999,2000,2001,2002,2003,2004]}},
   "y": {"field": "c", "type": "quantitative", "axis": {"orient": "right", "title": null, "values": [-25,-20,-15,-10,-5,0,5,10,15,20,25]}},
   "color": {"datum": "computed", "type": "nominal"}}}
 ],
 "resolve": {"axis": {"x": "independent", "y": "independent"}}}
]},
{"spacing": 88, "bounds": "flush", "hconcat": [
{"width": 356, "height": 154, "title": {"text": "Mud Creek Flows", "dx": 15, "offset": -54},
 "data": {"values": [
{"t":1996,"m":2,"c":1},{"t":1996.1,"m":-2,"c":0},{"t":1996.2,"m":4,"c":1.5},{"t":1996.3,"m":-2,"c":0},{"t":1996.4,"m":3,"c":1},{"t":1996.5,"m":-1,"c":0.5},{"t":1996.6,"m":5,"c":2},{"t":1996.7,"m":-3,"c":1},{"t":1996.76,"m":-5},{"t":1996.8,"m":3,"c":2.5},{"t":1996.9,"m":-2,"c":0.5},
{"t":1997,"m":5,"c":1.5},{"t":1997.1,"m":-3,"c":0},{"t":1997.2,"m":4,"c":2},{"t":1997.3,"m":-2,"c":0.5},{"t":1997.4,"m":5,"c":2.5},{"t":1997.5,"m":0,"c":1},{"t":1997.6,"m":4,"c":2},{"t":1997.7,"m":-2,"c":0.5},{"t":1997.8,"m":3,"c":1.5},{"t":1997.9,"m":-1,"c":0},
{"t":1998,"m":2,"c":1},{"t":1998.1,"m":-3,"c":0},{"t":1998.2,"m":3,"c":1},{"t":1998.3,"m":-2,"c":-0.5},{"t":1998.4,"m":2,"c":1},{"t":1998.5,"m":-1,"c":0},{"t":1998.6,"m":3,"c":1.5},{"t":1998.7,"m":5.5,"c":3},{"t":1998.8,"m":-2,"c":1},{"t":1998.9,"m":3,"c":1.5},
{"t":1999,"m":-2,"c":0},{"t":1999.1,"m":3,"c":1},{"t":1999.2,"m":-3,"c":-0.5},{"t":1999.3,"m":2,"c":1},{"t":1999.4,"m":-2,"c":0},{"t":1999.5,"m":3,"c":1.5},{"t":1999.6,"m":0,"c":2},{"t":1999.7,"m":5,"c":4},{"t":1999.78,"c":8},{"t":1999.8,"m":4},{"t":1999.85,"c":3},{"t":1999.9,"m":-1,"c":2},
{"t":2000,"m":3,"c":1.5},{"t":2000.1,"m":-2,"c":0},{"t":2000.2,"m":2,"c":1},{"t":2000.3,"m":-3,"c":-0.5},{"t":2000.4,"m":2,"c":0.5},{"t":2000.5,"m":-2,"c":0},{"t":2000.6,"m":3,"c":1},{"t":2000.7,"m":0,"c":2},{"t":2000.78,"m":5.5,"c":5},{"t":2000.8,"m":-1},{"t":2000.85,"c":2},{"t":2000.9,"m":2,"c":1},
{"t":2001,"m":-2,"c":0.5},{"t":2001.1,"m":3,"c":0},{"t":2001.2,"m":-3,"c":1},{"t":2001.3,"m":2,"c":-0.5},{"t":2001.4,"m":-2,"c":1},{"t":2001.5,"m":3,"c":0.5},{"t":2001.6,"m":0,"c":1.5},{"t":2001.7,"m":4,"c":3},{"t":2001.8,"m":6},{"t":2001.85,"c":7},{"t":2001.9,"m":2,"c":3},
{"t":2002,"m":4,"c":2},{"t":2002.1,"m":-2,"c":0.5},{"t":2002.2,"m":3,"c":1},{"t":2002.3,"m":-3,"c":0},{"t":2002.4,"m":2,"c":2},{"t":2002.5,"m":5,"c":4},{"t":2002.6,"m":0,"c":2},{"t":2002.7,"m":4,"c":1.5},{"t":2002.8,"m":-3,"c":0.5},{"t":2002.9,"m":3,"c":1},
{"t":2003,"m":-2,"c":0},{"t":2003.1,"m":3,"c":1},{"t":2003.2,"m":-3,"c":0},{"t":2003.3,"m":4,"c":1.5},{"t":2003.4,"m":0,"c":1},{"t":2003.5,"m":5,"c":2.5},{"t":2003.6,"m":-2,"c":1},{"t":2003.7,"m":3,"c":1.5},{"t":2003.8,"m":-3,"c":0},{"t":2003.9,"m":2,"c":1},
{"t":2004,"m":-3,"c":0},{"t":2004.1,"m":2,"c":0.5},{"t":2004.2,"m":-2,"c":-0.5},{"t":2004.3,"m":3,"c":0.5},{"t":2004.4,"m":-2,"c":0},{"t":2004.5,"m":4,"c":1},{"t":2004.58,"m":-8.5},{"t":2004.6,"c":2},{"t":2004.62,"m":8.5},{"t":2004.7,"m":-2,"c":0.5},{"t":2004.8,"m":4,"c":2},{"t":2004.9,"m":-2,"c":0},{"t":2005,"m":1,"c":0.5}
 ]},
 "layer": [
  {"mark": "line", "encoding": {
   "x": {"field": "t", "type": "quantitative", "scale": {"domain": [1996, 2005], "nice": false, "zero": false}, "axis": {"title": null, "values": [1996.54,1997,1997.44,1998,1998.26,1999,2000,2001,2001.77,2002,2002.52,2003,2003.6,2004,2004.32], "labelExpr": "datum.value==1996.54?'1996':datum.value==1997.44?'1997':datum.value==1998.26?'1998':datum.value==1999?'1999':datum.value==2000?'2000':datum.value==2001?'2001':datum.value==2001.77?'2002':datum.value==2002.52?'20':datum.value==2003.6?'03':datum.value==2004.32?'2004':''", "tickOpacity": {"condition": {"test": "datum.value==floor(datum.value)", "value": 1}, "value": 0}}},
   "y": {"field": "m", "type": "quantitative", "scale": {"domain": [-25, 25], "nice": false}, "axis": {"values": [-25,-20,-15,-10,-5,0,5,10,15,20,25], "title": "Discharge in cubic meters per second"}},
   "color": {"datum": "measured", "type": "nominal"}}},
  {"mark": "line", "encoding": {
   "x": {"field": "t", "type": "quantitative", "axis": {"orient": "top", "title": null, "values": [1997,1998,1999,2000,2001,2002,2003,2004]}},
   "y": {"field": "c", "type": "quantitative", "axis": {"orient": "right", "title": null, "values": [-25,-20,-15,-10,-5,0,5,10,15,20,25]}},
   "color": {"datum": "computed", "type": "nominal"}}}
 ],
 "resolve": {"axis": {"x": "independent", "y": "independent"}}},
{"width": 350, "height": 154, "title": {"text": "North River Flows", "dx": 13, "offset": -46},
 "data": {"values": [
{"t":1996,"c":3},{"t":1996.1,"c":-1},{"t":1996.2,"c":2},{"t":1996.3,"c":-1.5},{"t":1996.4,"c":2.5},{"t":1996.5,"c":0},{"t":1996.6,"c":2.5},{"t":1996.7,"c":4},{"t":1996.75,"c":-4},{"t":1996.8,"c":2},{"t":1996.9,"c":0},
{"t":1997,"c":1.5},{"t":1997.1,"c":-1.5},{"t":1997.2,"c":2},{"t":1997.3,"c":-1},{"t":1997.45,"c":4.5},{"t":1997.5,"c":2},{"t":1997.6,"c":3},{"t":1997.7,"c":2},{"t":1997.75,"c":3.5},{"t":1997.8,"c":1},{"t":1997.9,"c":2.5},
{"t":1998,"c":-1},{"t":1998.1,"c":3},{"t":1998.2,"c":0},{"t":1998.3,"c":2},{"t":1998.4,"c":3.5},{"t":1998.5,"c":0},{"t":1998.6,"c":1.5},{"t":1998.7,"c":3.5},{"t":1998.81,"c":-3},{"t":1998.9,"c":1.5},
{"t":1999,"c":0},{"t":1999.1,"c":1.5},{"t":1999.2,"c":-1},{"t":1999.3,"c":1.5},{"t":1999.4,"c":0},{"t":1999.5,"c":2},{"t":1999.6,"c":3},{"t":1999.74,"c":7.5},{"t":1999.77,"c":-2},{"t":1999.79,"c":9},{"t":1999.85,"c":4},{"t":1999.9,"c":2.5},
{"t":2000,"c":2},{"t":2000.1,"c":0.5},{"t":2000.2,"c":1.5},{"t":2000.3,"c":0},{"t":2000.4,"c":1.5},{"t":2000.5,"c":0},{"t":2000.6,"c":2},{"t":2000.7,"c":1.5},{"t":2000.77,"c":5.5},{"t":2000.85,"c":1.5},{"t":2000.9,"c":0.5},
{"t":2001,"c":1},{"t":2001.1,"c":-0.5},{"t":2001.2,"c":1},{"t":2001.3,"c":0},{"t":2001.4,"c":1.5},{"t":2001.5,"c":-0.5},{"t":2001.6,"c":4},{"t":2001.7,"c":1},{"t":2001.85,"c":4.5},{"t":2001.9,"c":3},
{"t":2002,"c":2.5},{"t":2002.1,"c":1},{"t":2002.2,"c":2},{"t":2002.3,"c":0.5},{"t":2002.4,"c":1},{"t":2002.5,"c":4},{"t":2002.6,"c":2.5},{"t":2002.7,"c":2},{"t":2002.8,"c":1},{"t":2002.9,"c":2},
{"t":2003,"c":0},{"t":2003.1,"c":2},{"t":2003.2,"c":0.5},{"t":2003.3,"c":2.5},{"t":2003.4,"c":1},{"t":2003.5,"c":2.5},{"t":2003.6,"c":1.5},{"t":2003.7,"c":2.5,"m":2},{"t":2003.72,"m":17},{"t":2003.74,"m":-4},{"t":2003.8,"c":1,"m":9},{"t":2003.85,"m":-3},{"t":2003.9,"c":2,"m":5},
{"t":2004,"c":0,"m":-3},{"t":2004.1,"c":1.5,"m":7},{"t":2004.15,"m":-4},{"t":2004.2,"c":-0.5,"m":6},{"t":2004.3,"c":1.5,"m":-4},{"t":2004.35,"m":5},{"t":2004.4,"c":0.5,"m":-3},{"t":2004.5,"c":2,"m":8},{"t":2004.55,"m":-4},{"t":2004.6,"m":12},{"t":2004.63,"c":-7,"m":-27},{"t":2004.66,"m":21.5},{"t":2004.7,"c":4,"m":2},{"t":2004.75,"m":15.5},{"t":2004.8,"c":1,"m":-2},{"t":2004.9,"c":2.5,"m":10},{"t":2005,"c":3,"m":4}
 ]},
 "layer": [
  {"mark": "line", "encoding": {
   "x": {"field": "t", "type": "quantitative", "scale": {"domain": [1996, 2004.79], "nice": false, "zero": false}, "axis": {"title": null, "values": [1996.54,1997,1997.44,1998,1998.26,1999,2000,2001,2001.77,2002,2002.52,2003,2003.6,2004,2004.32], "labelExpr": "datum.value==1996.54?'1996':datum.value==1997.44?'1997':datum.value==1998.26?'1998':datum.value==1999?'1999':datum.value==2000?'2000':datum.value==2001?'2001':datum.value==2001.77?'2002':datum.value==2002.52?'20':datum.value==2003.6?'03':datum.value==2004.32?'2004':''", "tickOpacity": {"condition": {"test": "datum.value==floor(datum.value)", "value": 1}, "value": 0}}},
   "y": {"field": "m", "type": "quantitative", "scale": {"domain": [-25, 25], "nice": false}, "axis": {"values": [-25,-20,-15,-10,-5,0,5,10,15,20,25], "title": "Discharge in cubic meters per second"}},
   "color": {"datum": "measured", "type": "nominal"}}},
  {"mark": "line", "encoding": {
   "x": {"field": "t", "type": "quantitative", "axis": {"orient": "top", "title": null, "values": [1997,1998,1999,2000,2001,2002,2003,2004]}},
   "y": {"field": "c", "type": "quantitative", "axis": {"orient": "right", "title": null, "values": [-25,-20,-15,-10,-5,0,5,10,15,20,25]}},
   "color": {"datum": "computed", "type": "nominal"}}}
 ],
 "resolve": {"axis": {"x": "independent", "y": "independent"}}}
]},
{"spacing": 88, "bounds": "flush", "hconcat": [
{"width": 356, "height": 154, "title": {"text": "Shark River Flows", "dx": 8.5, "offset": -48},
 "data": {"values": [
{"t":1996,"c":15},{"t":1996.1,"c":0},{"t":1996.2,"c":12},{"t":1996.3,"c":-5},{"t":1996.4,"c":15},{"t":1996.5,"c":2},{"t":1996.6,"c":20},{"t":1996.7,"c":5},{"t":1996.78,"c":-20},{"t":1996.8,"c":18},{"t":1996.9,"c":3},
{"t":1997,"c":15},{"t":1997.1,"c":0},{"t":1997.2,"c":18},{"t":1997.3,"c":5},{"t":1997.45,"c":25},{"t":1997.5,"c":8},{"t":1997.6,"c":20},{"t":1997.7,"c":2},{"t":1997.8,"c":15},{"t":1997.9,"c":5},
{"t":1998,"c":12},{"t":1998.1,"c":-2},{"t":1998.2,"c":10},{"t":1998.3,"c":0},{"t":1998.4,"c":12},{"t":1998.5,"c":2},{"t":1998.6,"c":15},{"t":1998.7,"c":20},{"t":1998.8,"c":5},{"t":1998.9,"c":15},
{"t":1999,"c":0},{"t":1999.1,"c":12},{"t":1999.2,"c":-2},{"t":1999.3,"c":10},{"t":1999.4,"c":5},{"t":1999.5,"c":15},{"t":1999.6,"c":10},{"t":1999.7,"c":25},{"t":1999.78,"c":40},{"t":1999.85,"c":15},{"t":1999.9,"c":20},
{"t":2000,"c":8},{"t":2000.1,"c":12},{"t":2000.2,"c":0},{"t":2000.3,"c":10},{"t":2000.4,"c":2},{"t":2000.5,"c":8},{"t":2000.6,"c":5},{"t":2000.7,"c":15},{"t":2000.77,"c":25},{"t":2000.8,"c":10},{"t":2000.9,"c":5},
{"t":2001,"c":10},{"t":2001.1,"c":0,"m":10},{"t":2001.2,"c":8,"m":-15},{"t":2001.3,"c":-2,"m":20},{"t":2001.4,"c":10,"m":-25},{"t":2001.5,"c":5,"m":30},{"t":2001.6,"c":20,"m":60},{"t":2001.7,"c":10,"m":-20},{"t":2001.75,"m":-50},{"t":2001.85,"c":35,"m":100},{"t":2001.9,"c":15,"m":-10},
{"t":2002,"c":20,"m":45},{"t":2002.1,"c":5,"m":-20},{"t":2002.2,"c":15,"m":35},{"t":2002.3,"c":0,"m":-25},{"t":2002.4,"c":12,"m":30},{"t":2002.5,"c":25,"m":50},{"t":2002.6,"c":8,"m":-15},{"t":2002.7,"c":15,"m":40},{"t":2002.8,"c":0,"m":-30},{"t":2002.9,"c":12,"m":25},
{"t":2003,"c":0,"m":-40},{"t":2003.1,"c":15,"m":30},{"t":2003.2,"c":2,"m":-20},{"t":2003.3,"c":18,"m":55},{"t":2003.4,"c":5,"m":-15},{"t":2003.5,"c":22,"m":45},{"t":2003.6,"c":8,"m":-10},{"t":2003.7,"c":15,"m":35},{"t":2003.8,"c":0,"m":-25},{"t":2003.9,"c":12,"m":30},
{"t":2004,"c":-2,"m":-20},{"t":2004.1,"c":10,"m":25},{"t":2004.2,"c":0,"m":-15},{"t":2004.3,"c":12,"m":30},{"t":2004.4,"c":2,"m":-10},{"t":2004.5,"c":15,"m":20},{"t":2004.6,"c":20,"m":90},{"t":2004.62,"m":-80},{"t":2004.7,"c":5,"m":-10},{"t":2004.8,"c":15,"m":40},{"t":2004.9,"c":0,"m":-15},{"t":2005,"c":10,"m":20}
 ]},
 "layer": [
  {"mark": "line", "encoding": {
   "x": {"field": "t", "type": "quantitative", "scale": {"domain": [1996, 2005], "nice": false, "zero": false}, "axis": {"title": null, "values": [1996.54,1997,1997.44,1998,1998.26,1999,2000,2001,2001.77,2002,2002.52,2003,2003.6,2004,2004.32], "labelExpr": "datum.value==1996.54?'1996':datum.value==1997.44?'1997':datum.value==1998.26?'1998':datum.value==1999?'1999':datum.value==2000?'2000':datum.value==2001?'2001':datum.value==2001.77?'2002':datum.value==2002.52?'20':datum.value==2003.6?'03':datum.value==2004.32?'2004':''", "tickOpacity": {"condition": {"test": "datum.value==floor(datum.value)", "value": 1}, "value": 0}}},
   "y": {"field": "m", "type": "quantitative", "scale": {"domain": [-250, 250], "nice": false}, "axis": {"values": [-250,-200,-150,-100,-50,0,50,100,150,200,250], "title": "Discharge in cubic meters per second"}},
   "color": {"datum": "measured", "type": "nominal"}}},
  {"mark": "line", "encoding": {
   "x": {"field": "t", "type": "quantitative", "axis": {"orient": "top", "title": null, "values": [1997,1998,1999,2000,2001,2002,2003,2004]}},
   "y": {"field": "c", "type": "quantitative", "axis": {"orient": "right", "title": null, "values": [-250,-200,-150,-100,-50,0,50,100,150,200,250]}},
   "color": {"datum": "computed", "type": "nominal"}}}
 ],
 "resolve": {"axis": {"x": "independent", "y": "independent"}}},
{"width": 350, "height": 154, "title": {"text": "Taylor River Flows", "dx": 6, "offset": -39},
 "data": {"values": [
{"t":1996,"c":7,"m":0},{"t":1996.05,"c":2},{"t":1996.1,"c":1,"m":-1},{"t":1996.2,"c":0.5,"m":0.5},{"t":1996.3,"c":0,"m":-1},{"t":1996.4,"c":1,"m":0.5},{"t":1996.5,"c":4.5,"m":3},{"t":1996.55,"c":2},{"t":1996.6,"c":2,"m":0},{"t":1996.7,"c":3.5,"m":2},{"t":1996.75,"m":-2},{"t":1996.78,"c":9},{"t":1996.8,"m":3},{"t":1996.85,"c":3},{"t":1996.9,"c":1,"m":-1},
{"t":1997,"c":2.5,"m":1},{"t":1997.1,"c":0.5,"m":-1},{"t":1997.2,"c":0,"m":0},{"t":1997.3,"c":0.5,"m":-2},{"t":1997.43,"c":8,"m":4},{"t":1997.5,"c":3.5,"m":1},{"t":1997.6,"c":5.5,"m":3},{"t":1997.65,"c":3},{"t":1997.7,"c":5.5,"m":2},{"t":1997.75,"m":-2.5},{"t":1997.8,"c":1.5,"m":1},{"t":1997.9,"c":3,"m":2},
{"t":1998,"c":2,"m":0},{"t":1998.09,"c":5.5},{"t":1998.1,"m":3},{"t":1998.15,"c":2},{"t":1998.2,"c":3.5,"m":1},{"t":1998.3,"c":0.5,"m":-1},{"t":1998.4,"c":0,"m":0.5},{"t":1998.5,"c":0.5,"m":-1},{"t":1998.6,"c":2,"m":1.5},{"t":1998.7,"c":6,"m":4},{"t":1998.8,"c":3.5,"m":1},{"t":1998.85,"m":-2},{"t":1998.9,"c":2,"m":0.5},
{"t":1999,"c":1,"m":-1},{"t":1999.1,"c":0.5,"m":1},{"t":1999.2,"c":0,"m":-1.5},{"t":1999.3,"c":0.5,"m":0.5},{"t":1999.4,"c":1,"m":-1},{"t":1999.5,"c":1.5,"m":2},{"t":1999.6,"c":3,"m":1},{"t":1999.7,"c":8,"m":3.5},{"t":1999.77,"c":14},{"t":1999.8,"m":6},{"t":1999.82,"c":6},{"t":1999.9,"c":3.5,"m":2},
{"t":2000,"c":2.5,"m":1},{"t":2000.1,"c":3,"m":-1},{"t":2000.2,"c":1,"m":0.5},{"t":2000.3,"c":0,"m":-1},{"t":2000.4,"c":0.5,"m":0},{"t":2000.5,"c":0.5,"m":-1},{"t":2000.6,"c":1.5,"m":1},{"t":2000.68,"c":4},{"t":2000.7,"m":2},{"t":2000.75,"c":7.5,"m":4},{"t":2000.8,"c":2.5,"m":-1},{"t":2000.9,"c":1,"m":0.5},
{"t":2001,"c":0.5,"m":-1},{"t":2001.1,"c":0,"m":0.5},{"t":2001.2,"c":0.5,"m":-1},{"t":2001.3,"c":0,"m":0},{"t":2001.37,"m":-4},{"t":2001.4,"c":0.5},{"t":2001.45,"m":-4},{"t":2001.5,"c":5.5,"m":2},{"t":2001.58,"m":5.5},{"t":2001.6,"c":3},{"t":2001.7,"c":5,"m":3},{"t":2001.78,"c":8.5},{"t":2001.8,"m":5},{"t":2001.85,"c":4},{"t":2001.9,"c":2,"m":1},
{"t":2002,"c":1.5,"m":0.5},{"t":2002.1,"c":0.5,"m":-1},{"t":2002.2,"c":0,"m":0},{"t":2002.3,"c":0.5,"m":-1},{"t":2002.4,"c":2,"m":1},{"t":2002.5,"c":7.5,"m":4},{"t":2002.6,"c":3,"m":1},{"t":2002.7,"c":4,"m":2},{"t":2002.75,"m":-4},{"t":2002.8,"c":1.5,"m":0.5},{"t":2002.9,"c":2.5,"m":1},
{"t":2003,"c":0.5,"m":-1},{"t":2003.1,"c":1.5,"m":1},{"t":2003.2,"c":2.5,"m":0},{"t":2003.3,"c":1.5,"m":1},{"t":2003.4,"c":3,"m":2},{"t":2003.46,"c":4.5},{"t":2003.5,"m":-1},{"t":2003.55,"c":2},{"t":2003.6,"m":3},{"t":2003.65,"c":5.5},{"t":2003.7,"c":3,"m":2},{"t":2003.8,"c":7,"m":4},{"t":2003.85,"c":2},{"t":2003.9,"c":0.5,"m":-1},
{"t":2004,"c":0,"m":1},{"t":2004.1,"c":0.5,"m":-1},{"t":2004.2,"c":0,"m":0.5},{"t":2004.3,"c":0.5,"m":-1},{"t":2004.4,"c":0,"m":1},{"t":2004.5,"c":0.5,"m":-1},{"t":2004.6,"c":1,"m":2},{"t":2004.63,"m":-5},{"t":2004.65,"m":7},{"t":2004.7,"c":3,"m":-4},{"t":2004.8,"c":2,"m":5},{"t":2004.9,"c":3,"m":0},{"t":2005,"c":2,"m":3}
 ]},
 "layer": [
  {"mark": "line", "encoding": {
   "x": {"field": "t", "type": "quantitative", "scale": {"domain": [1996, 2004.79], "nice": false, "zero": false}, "axis": {"title": null, "values": [1996.54,1997,1997.44,1998,1998.26,1999,2000,2001,2001.77,2002,2002.52,2003,2003.6,2004,2004.32], "labelExpr": "datum.value==1996.54?'1996':datum.value==1997.44?'1997':datum.value==1998.26?'1998':datum.value==1999?'1999':datum.value==2000?'2000':datum.value==2001?'2001':datum.value==2001.77?'2002':datum.value==2002.52?'20':datum.value==2003.6?'03':datum.value==2004.32?'2004':''", "tickOpacity": {"condition": {"test": "datum.value==floor(datum.value)", "value": 1}, "value": 0}}},
   "y": {"field": "m", "type": "quantitative", "scale": {"domain": [-25, 25], "nice": false}, "axis": {"values": [-25,-20,-15,-10,-5,0,5,10,15,20,25], "title": "Discharge in cubic meters per second"}},
   "color": {"datum": "measured", "type": "nominal"}}},
  {"mark": "line", "encoding": {
   "x": {"field": "t", "type": "quantitative", "axis": {"orient": "top", "title": null, "values": [1997,1998,1999,2000,2001,2002,2003,2004]}},
   "y": {"field": "c", "type": "quantitative", "axis": {"orient": "right", "title": null, "values": [-25,-20,-15,-10,-5,0,5,10,15,20,25]}},
   "color": {"datum": "computed", "type": "nominal"}}}
 ],
 "resolve": {"axis": {"x": "independent", "y": "independent"}}}
]},
{"width": 356, "height": 154, "title": {"text": "Trout River Flows", "dx": 12.5, "offset": -46},
 "data": {"values": [
{"t":1996,"c":35,"m":10},{"t":1996.05,"c":10},{"t":1996.1,"c":5,"m":-15},{"t":1996.2,"c":2,"m":20},{"t":1996.3,"c":8,"m":-10},{"t":1996.4,"c":12,"m":25},{"t":1996.49,"c":20},{"t":1996.5,"m":-5},{"t":1996.55,"c":8},{"t":1996.6,"c":12,"m":30},{"t":1996.7,"c":15,"m":-20},{"t":1996.76,"c":25,"m":-50},{"t":1996.78,"m":45},{"t":1996.8,"c":10},{"t":1996.85,"m":-15},{"t":1996.9,"c":3,"m":20},
{"t":1997,"c":2,"m":-25},{"t":1997.1,"c":0,"m":15},{"t":1997.2,"c":3,"m":-20},{"t":1997.3,"c":5,"m":20},{"t":1997.44,"c":30,"m":48},{"t":1997.5,"c":15,"m":-15},{"t":1997.6,"c":10,"m":30},{"t":1997.7,"c":15,"m":-20},{"t":1997.8,"c":5,"m":25},{"t":1997.9,"c":10,"m":-15},
{"t":1998,"c":3,"m":20},{"t":1998.1,"c":5,"m":-30},{"t":1998.2,"c":0,"m":15},{"t":1998.3,"c":2,"m":-20},{"t":1998.4,"c":5,"m":20},{"t":1998.5,"c":3,"m":-15},{"t":1998.6,"c":8},{"t":1998.65,"m":40},{"t":1998.7,"m":-10},{"t":1998.72,"c":30},{"t":1998.8,"c":12,"m":25},{"t":1998.9,"c":10,"m":-20},
{"t":1999,"c":5,"m":20},{"t":1999.1,"c":3,"m":-25},{"t":1999.2,"c":6,"m":15},{"t":1999.3,"c":2,"m":-15},{"t":1999.4,"c":8,"m":20},{"t":1999.5,"c":10,"m":-10},{"t":1999.6,"c":15,"m":25},{"t":1999.7,"c":30,"m":5},{"t":1999.79,"c":70,"m":50},{"t":1999.84,"c":25},{"t":1999.85,"m":-5},{"t":1999.9,"c":15,"m":30},
{"t":2000,"c":10,"m":-15},{"t":2000.1,"c":5,"m":20},{"t":2000.2,"c":8,"m":-25},{"t":2000.3,"c":2,"m":15},{"t":2000.4,"c":5,"m":-20},{"t":2000.5,"c":0,"m":10},{"t":2000.6,"c":5,"m":-15},{"t":2000.7,"c":15,"m":25},{"t":2000.76,"c":40,"m":45},{"t":2000.82,"c":10},{"t":2000.85,"m":-10},{"t":2000.9,"c":5,"m":20},
{"t":2001,"c":2,"m":-20},{"t":2001.1,"c":0,"m":15},{"t":2001.2,"c":3,"m":-25},{"t":2001.3,"c":-2,"m":10},{"t":2001.4,"c":2,"m":-30},{"t":2001.5,"c":0,"m":15},{"t":2001.6,"c":25,"m":30},{"t":2001.7,"c":12},{"t":2001.71,"m":-45},{"t":2001.79,"m":55},{"t":2001.8,"c":35},{"t":2001.85,"m":5},{"t":2001.9,"c":15,"m":30},
{"t":2002,"c":10,"m":-15},{"t":2002.1,"c":5,"m":25},{"t":2002.2,"c":3,"m":-20},{"t":2002.3,"c":0,"m":15},{"t":2002.4,"c":8,"m":-15},{"t":2002.5,"c":30,"m":40},{"t":2002.6,"c":15,"m":-10},{"t":2002.7,"c":8,"m":25},{"t":2002.8,"c":0,"m":-40},{"t":2002.9,"c":5,"m":20},
{"t":2003,"c":0,"m":-20},{"t":2003.1,"c":8,"m":25},{"t":2003.2,"c":15,"m":-10},{"t":2003.3,"c":5,"m":20},{"t":2003.4,"c":10,"m":-15},{"t":2003.5,"c":8,"m":25},{"t":2003.6,"c":15,"m":-5},{"t":2003.7,"c":25,"m":35},{"t":2003.8,"c":5,"m":-15},{"t":2003.9,"c":0,"m":15},
{"t":2004,"c":3,"m":-20},{"t":2004.1,"c":-2,"m":10},{"t":2004.2,"c":0,"m":-15},{"t":2004.3,"c":-3,"m":15},{"t":2004.4,"c":2,"m":-10},{"t":2004.5,"c":0,"m":10},{"t":2004.6,"c":10,"m":40},{"t":2004.7,"c":5,"m":-70},{"t":2004.75,"m":-50},{"t":2004.8,"c":10,"m":20},{"t":2004.9,"c":0,"m":-10},{"t":2005,"c":5,"m":10}
 ]},
 "layer": [
  {"mark": "line", "encoding": {
   "x": {"field": "t", "type": "quantitative", "scale": {"domain": [1996, 2005], "nice": false, "zero": false}, "axis": {"title": null, "values": [1996.54,1997,1997.44,1998,1998.26,1999,2000,2001,2001.77,2002,2002.52,2003,2003.6,2004,2004.32], "labelExpr": "datum.value==1996.54?'1996':datum.value==1997.44?'1997':datum.value==1998.26?'1998':datum.value==1999?'1999':datum.value==2000?'2000':datum.value==2001?'2001':datum.value==2001.77?'2002':datum.value==2002.52?'20':datum.value==2003.6?'03':datum.value==2004.32?'2004':''", "tickOpacity": {"condition": {"test": "datum.value==floor(datum.value)", "value": 1}, "value": 0}}},
   "y": {"field": "m", "type": "quantitative", "scale": {"domain": [-250, 250], "nice": false}, "axis": {"values": [-250,-200,-150,-100,-50,0,50,100,150,200,250], "title": "Discharge in cubic meters per second"}},
   "color": {"datum": "measured", "type": "nominal"}}},
  {"mark": "line", "encoding": {
   "x": {"field": "t", "type": "quantitative", "axis": {"orient": "top", "title": null, "values": [1997,1998,1999,2000,2001,2002,2003,2004]}},
   "y": {"field": "c", "type": "quantitative", "axis": {"orient": "right", "title": null, "values": [-250,-200,-150,-100,-50,0,50,100,150,200,250]}},
   "color": {"datum": "computed", "type": "nominal"}}}
 ],
 "resolve": {"axis": {"x": "independent", "y": "independent"}}}
]}
]
}
